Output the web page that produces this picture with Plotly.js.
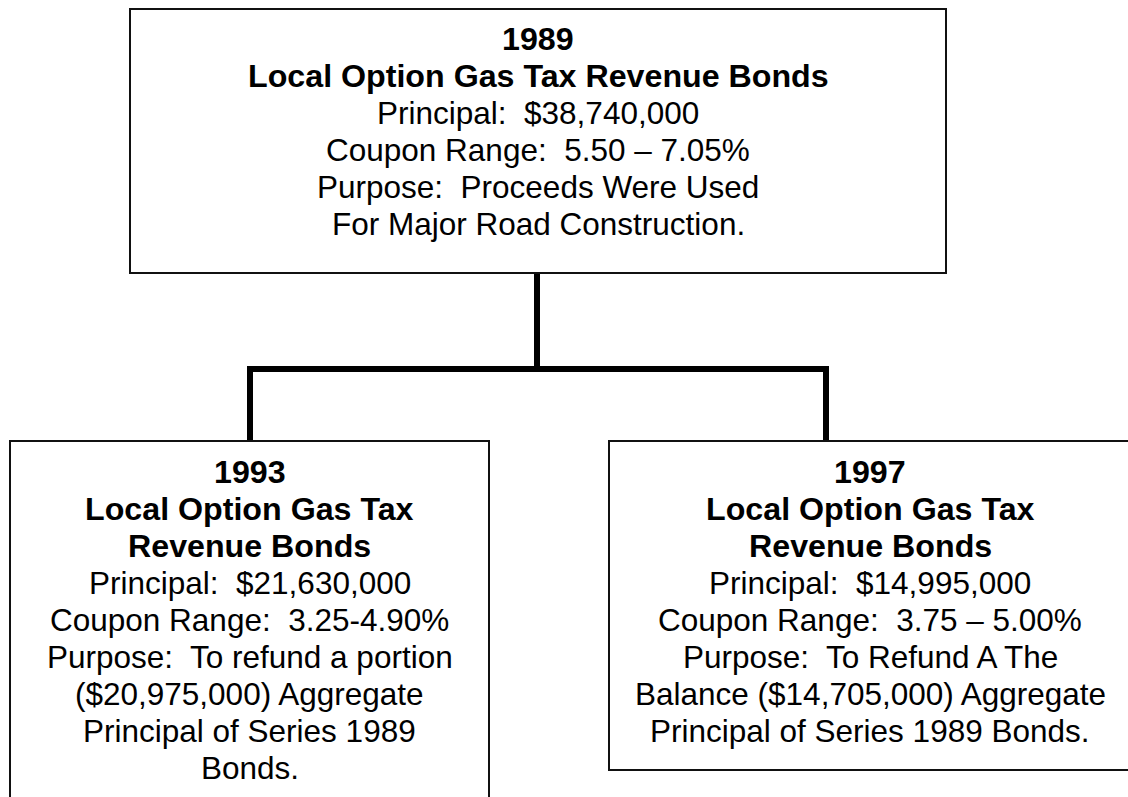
<!DOCTYPE html>
<html>
<head>
<meta charset="utf-8">
<script src="https://cdn.plot.ly/plotly-3.0.1.min.js"></script>
<style>html,body{margin:0;padding:0;background:#fff;}#chart{width:1128px;height:797px;}</style>
</head>
<body>
<div id="chart"></div>
<script>
// ---- Content (text lines of each box) ----
const topBoldLines = ["1989", "Local Option Gas Tax Revenue Bonds"];
const topLines = ["Principal:\u00a0 $38,740,000", "Coupon Range:\u00a0 5.50 \u2013 7.05%", "Purpose:\u00a0 Proceeds Were Used", "For Major Road Construction."];

const leftBoldLines = ["1993", "Local Option Gas Tax", "Revenue Bonds"];
const leftLines = ["Principal:\u00a0 $21,630,000", "Coupon Range:\u00a0 3.25-4.90%", "Purpose:\u00a0 To refund a portion", "($20,975,000) Aggregate", "Principal of Series 1989", "Bonds."];

const rightBoldLines = ["1997", "Local Option Gas Tax", "Revenue Bonds"];
const rightLines = ["Principal:\u00a0 $14,995,000", "Coupon Range:\u00a0 3.75 \u2013 5.00%", "Purpose:\u00a0 To Refund A The", "Balance ($14,705,000) Aggregate", "Principal of Series 1989 Bonds."];

// ---- Layout geometry (pixel-like data space) ----
const boxes = [
  {x0: 130, x1: 946, y0: 9, y1: 273, cx: 538, ty: 38.5, bold: topBoldLines, lines: topLines},
  {x0: 10, x1: 489, y0: 441, y1: 805, cx: 249.5, ty: 472, bold: leftBoldLines, lines: leftLines},
  {x0: 609, x1: 1135, y0: 441, y1: 770, cx: 870, ty: 472, bold: rightBoldLines, lines: rightLines}
];
const pitch = 37;
const fontFamily = "Arial, 'Liberation Sans', sans-serif";
const fontSize = 31.5;
const boldSize = 32.2;

const shapes = [];
// connector
shapes.push({type: 'path', xref: 'x', yref: 'y',
  path: 'M 537 273 L 537 369 M 250 441 L 250 369 L 826 369 L 826 441',
  line: {color: '#000', width: 6}});
boxes.forEach(b => {
  shapes.push({type: 'rect', xref: 'x', yref: 'y', x0: b.x0, x1: b.x1, y0: b.y0, y1: b.y1,
    line: {color: '#111', width: 2}, fillcolor: '#ffffff'});
});

const annotations = [];
boxes.forEach(b => {
  const all = b.bold.map(t => ({t: '<b>' + t + '</b>', s: boldSize})).concat(b.lines.map(t => ({t: t, s: fontSize})));
  all.forEach((item, i) => {
    annotations.push({xref: 'x', yref: 'y', x: b.cx, y: b.ty + pitch * i,
      text: item.t, showarrow: false, xanchor: 'center', yanchor: 'middle',
      font: {family: fontFamily, size: item.s, color: '#000'}});
  });
});

const layout = {
  width: 1128, height: 797,
  margin: {l: 0, r: 0, t: 0, b: 0},
  paper_bgcolor: '#fff', plot_bgcolor: '#fff',
  showlegend: false,
  xaxis: {range: [0, 1128], visible: false, fixedrange: true},
  yaxis: {range: [797, 0], visible: false, fixedrange: true},
  shapes: shapes,
  annotations: annotations
};

Plotly.newPlot('chart', [], layout, {staticPlot: true, displayModeBar: false});
</script>
</body>
</html>
